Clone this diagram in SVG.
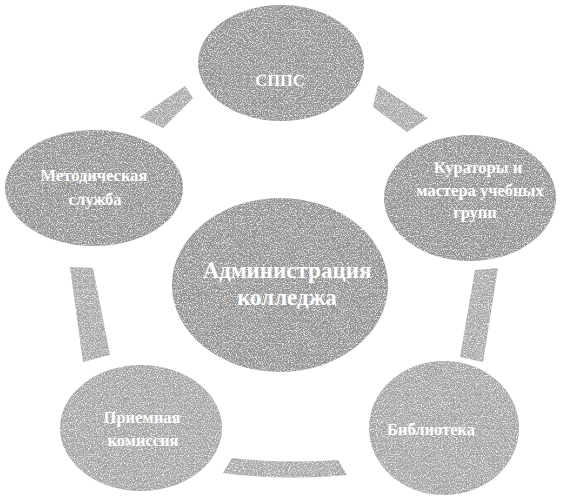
<svg xmlns="http://www.w3.org/2000/svg" width="561" height="497" viewBox="0 0 561 497">
<defs>
<filter id="grain" x="0" y="0" width="100%" height="100%">
<feTurbulence type="fractalNoise" baseFrequency="0.85" numOctaves="2" seed="7" result="n"/>
<feColorMatrix in="n" type="matrix" values="0 0 0 0 1  0 0 0 0 1  0 0 0 0 1  2.6 0 0 0 -1.2" result="w"/>
<feComposite in="w" in2="SourceGraphic" operator="in" result="wi"/>
<feMerge><feMergeNode in="SourceGraphic"/><feMergeNode in="wi"/></feMerge>
</filter>
<style>
.node{fill:#939393;filter:url(#grain)}
.light{fill:#a4a4a4}
.seg{fill:#a8a8a8;filter:url(#grain)}
.t{font-family:"Liberation Serif","Times New Roman",serif;font-weight:bold;fill:#ffffff;text-anchor:middle}
.s{font-size:16.5px}
.b{font-size:23px}
</style>
</defs>
<rect width="561" height="497" fill="#ffffff"/>
<g id="connectors">
<path class="seg" d="M140,117 L185,86 L193,98 L163,128 Z"/>
<path class="seg" d="M378,85 L428,118 L407,132 L373,107 Z"/>
<path class="seg" d="M70,267 L93,268 L110,355 L83,362 Z"/>
<path class="seg" d="M475,270 L498,268 L483,362 L460,357 Z"/>
<path class="seg" d="M223,473 L232,458 Q285,464 338,460 L347,475 Q285,481 223,473 Z"/>
</g>
<g id="sppc">
<ellipse class="node" cx="281" cy="63" rx="83" ry="58"/>
<text class="t s" x="280" y="86">СППС</text>
</g>
<g id="metod">
<ellipse class="node" cx="94" cy="188" rx="89" ry="58"/>
<text class="t s" x="94" y="181">Методическая</text>
<text class="t s" x="95" y="205">служба</text>
</g>
<g id="kurator">
<ellipse class="node" cx="470" cy="198" rx="86" ry="63"/>
<text class="t s" x="478" y="173">Кураторы и</text>
<text class="t s" x="480" y="196">мастера учебных</text>
<text class="t s" x="475" y="218">групп</text>
</g>
<g id="admin">
<ellipse class="node" cx="280" cy="285" rx="108" ry="87"/>
<text class="t b" x="287" y="278">Администрация</text>
<text class="t b" x="287" y="305">колледжа</text>
</g>
<g id="priem">
<ellipse class="node light" cx="141" cy="428" rx="81" ry="63"/>
<text class="t s" x="142" y="423">Приемная</text>
<text class="t s" x="143" y="446">комиссия</text>
</g>
<g id="bibl">
<ellipse class="node light" cx="444" cy="428" rx="75" ry="67"/>
<text class="t s" x="431" y="435">Библиотека</text>
</g>
</svg>
